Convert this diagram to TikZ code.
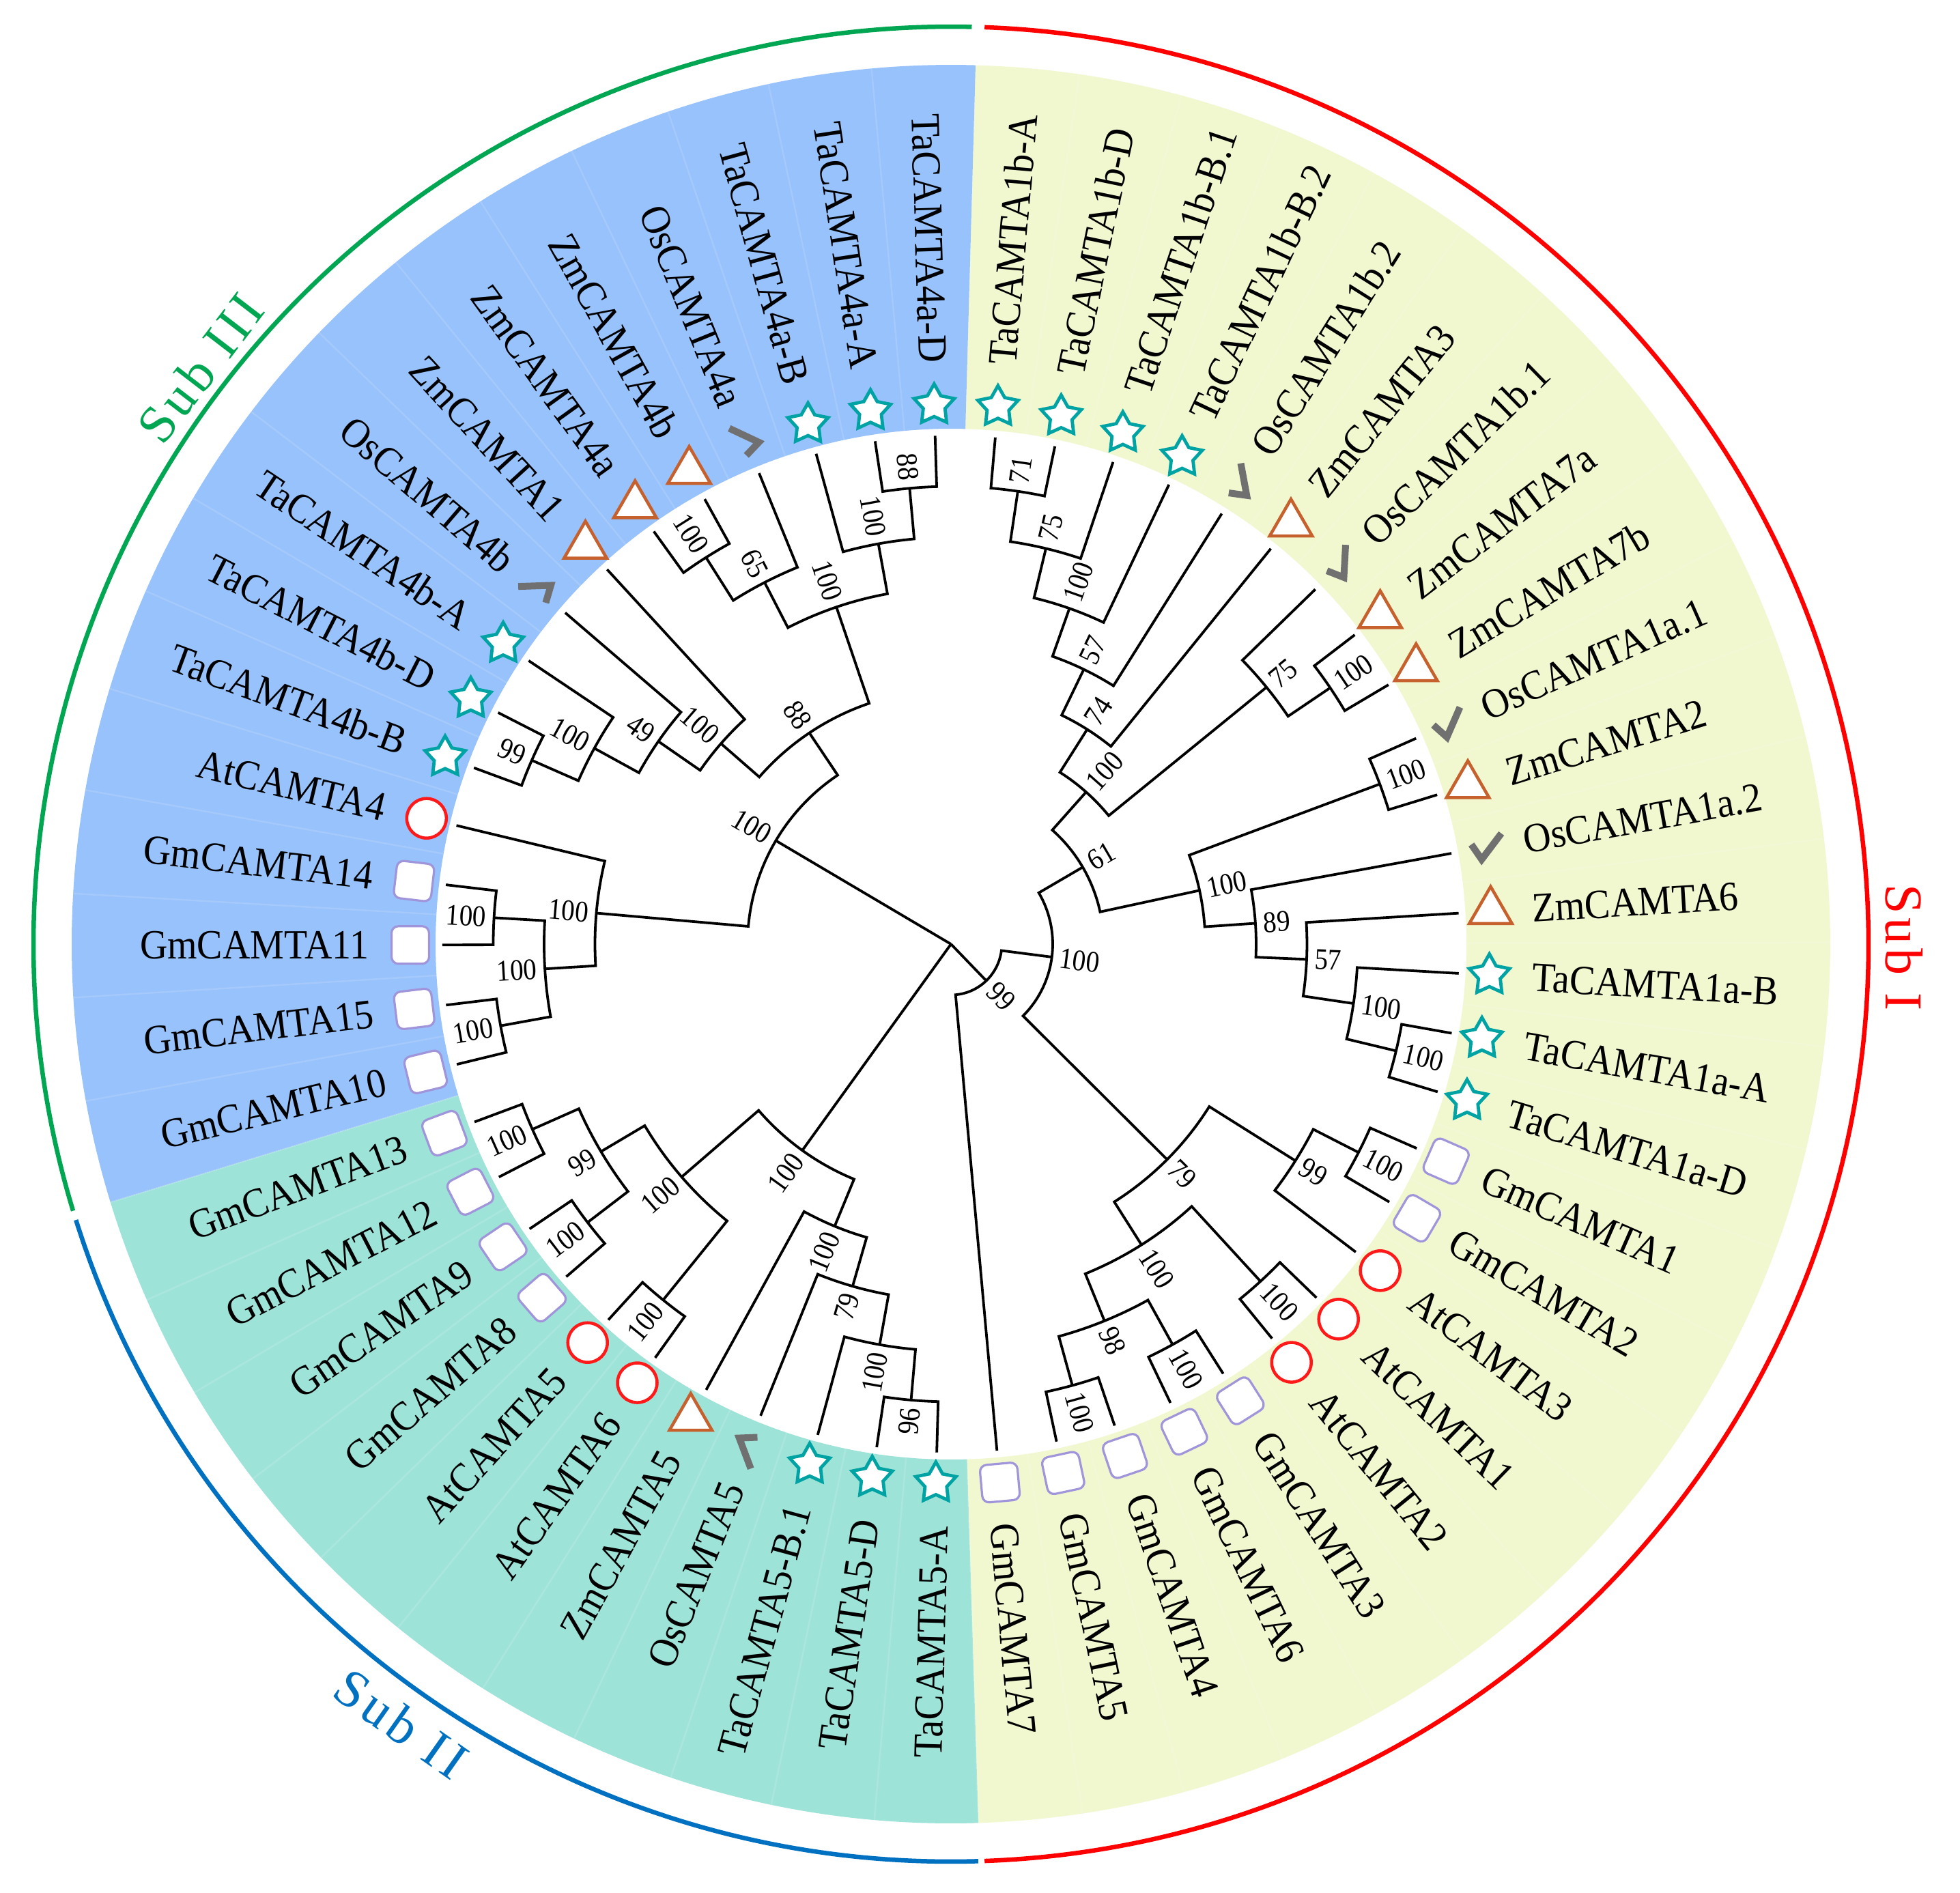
\documentclass[tikz,border=0pt]{standalone}
\usepackage{fontspec}
\newfontfamily\leaffont{Liberation Serif}[FakeStretch=0.92]
\newfontfamily\numfont{Liberation Serif}[FakeStretch=0.89]
\newfontfamily\subfont{Liberation Serif}[LetterSpace=8]
\usetikzlibrary{shapes.geometric}
\definecolor{bandY}{RGB}{241,248,208}
\definecolor{bandB}{RGB}{152,194,251}
\definecolor{bandT}{RGB}{158,227,216}
\definecolor{arcG}{RGB}{0,166,81}
\definecolor{arcR}{RGB}{255,0,0}
\definecolor{arcB}{RGB}{0,112,192}
\definecolor{tealc}{RGB}{0,163,163}
\definecolor{lilac}{RGB}{160,148,218}
\definecolor{redc}{RGB}{255,25,25}
\definecolor{brownc}{RGB}{198,96,44}
\definecolor{greyc}{RGB}{112,112,112}
\tikzset{
 tree/.style={line width=0.38mm, black, line join=miter},
 leaflab/.style={font=\leaffont\fontsize{17.3}{18}\selectfont, inner sep=0pt, text=black},
 bslab/.style={font=\numfont\fontsize{12.5}{13}\selectfont, inner sep=0pt, text=black},
 sublab/.style={font=\subfont\fontsize{22.2}{24}\selectfont, inner sep=0pt},
 mkS/.style={star, star points=5, star point ratio=1.85, draw=tealc, fill=white, line width=0.48mm, minimum size=6.2mm, inner sep=0pt},
 mkQ/.style={rectangle, rounded corners=1mm, draw=lilac, fill=white, line width=0.32mm, minimum size=5.5mm, inner sep=0pt},
 mkC/.style={circle, draw=redc, fill=white, line width=0.45mm, minimum size=5.8mm, inner sep=0pt},
 mkT/.style={regular polygon, regular polygon sides=3, draw=brownc, fill=white, line width=0.45mm, minimum size=7.2mm, inner sep=0pt},
 mkV/.style={draw=greyc, line width=1.0mm, line join=miter},
 subarc/.style={line width=0.65mm},
}
% internal tree node: name, child1 angle, child1 radius, child2 angle, child2 radius, node radius, bootstrap
\newcommand\tnb[7]{%
  \draw[tree] (#2:#3mm) -- (#2:#6mm) arc[start angle=#2, end angle=#4, radius=#6mm] -- (#4:#5mm);
  \pgfmathsetmacro\tnang{(#2+#4)/2}%
  \coordinate (#1) at (\tnang:#6mm);
  \pgfmathsetmacro\bsr{#6+1.1}%
  \pgfmathtruncatemacro\bsside{cos(\tnang)>=0 ? 1 : 0}%
  \ifnum\bsside=1
    \node[bslab, rotate=\tnang, anchor=west] (b#1) at (\tnang:\bsr mm) {#7};
  \else
    \pgfmathsetmacro\bsrot{\tnang+180}%
    \node[bslab, rotate=\bsrot, anchor=east] (b#1) at (\tnang:\bsr mm) {#7};
  \fi
}
\begin{document}
\begin{tikzpicture}
\fill[white] (-139.3mm,-139.0mm) rectangle (147.8mm,138.3mm);
\useasboundingbox (-139.3mm,-139.0mm) rectangle (147.8mm,138.3mm);

% coloured band
\fill[bandY] (-88.20875:75.5mm) arc[start angle=-88.20875, end angle=88.39625, radius=75.5mm] -- (88.39625:128.8mm) arc[start angle=88.39625, end angle=-88.20875, radius=128.8mm] -- cycle;
\fill[bandB] (88.39625:75.5mm) arc[start angle=88.39625, end angle=197.07375, radius=75.5mm] -- (197.07375:128.8mm) arc[start angle=197.07375, end angle=88.39625, radius=128.8mm] -- cycle;
\fill[bandT] (197.07375:75.5mm) arc[start angle=197.07375, end angle=271.79125, radius=75.5mm] -- (271.79125:128.8mm) arc[start angle=271.79125, end angle=197.07375, radius=128.8mm] -- cycle;
\foreach \j in {1,...,52} {
  \pgfmathsetmacro\wa{88.39625-\j*6.7925}
  \draw[white, opacity=0.13, line width=0.25mm] (\wa:75.5mm) -- (\wa:128.8mm);
}

% outer subgroup arcs
\draw[subarc, arcG] (88.7:134.4mm) arc[start angle=88.7, end angle=196.9, radius=134.4mm];
\draw[subarc, arcB] (197.5:134.4mm) arc[start angle=197.5, end angle=271.7, radius=134.4mm];
\draw[subarc, arcR] (-87.9:134.4mm) arc[start angle=-87.9, end angle=87.9, radius=134.4mm];
\node[sublab, text=arcG, rotate=52.5] (s3) at (142.5:138.6mm) {Sub III};
\node[sublab, text=arcR, rotate=-90] (s1) at (-0.2:139.6mm) {Sub I};
\node[sublab, text=arcB, rotate=-35.2] (s2) at (234.8:139.7mm) {Sub II};

% tree: Sub I
\tnb{na}{85}{74.5}{78.2075}{74.5}{67.05}{71}
\tnb{nb}{81.60375}{67.05}{71.415}{74.5}{59.6}{75}
\tnb{nc}{76.509}{59.6}{64.6225}{74.5}{52.15}{100}
\tnb{nd}{70.566}{52.15}{57.83}{74.5}{44.7}{57}
\tnb{ne}{64.198}{44.7}{51.0375}{74.5}{37.25}{74}
\tnb{nf}{37.4525}{74.5}{30.66}{74.5}{67.05}{100}
\tnb{ng}{44.245}{74.5}{34.056}{67.05}{59.6}{75}
\tnb{nh}{57.618}{37.25}{39.151}{59.6}{29.8}{100}
\tnb{ni}{23.8675}{74.5}{17.075}{74.5}{67.05}{100}
\tnb{nj}{-10.095}{74.5}{-16.8875}{74.5}{67.05}{100}
\tnb{nk}{-3.3025}{74.5}{-13.491}{67.05}{59.6}{100}
\tnb{nl}{3.49}{74.5}{-8.397}{59.6}{52.15}{57}
\tnb{nm}{10.2825}{74.5}{-2.454}{52.15}{44.7}{89}
\tnb{nn}{20.471}{67.05}{3.914}{44.7}{37.25}{100}
\tnb{no}{48.385}{29.8}{12.193}{37.25}{22.35}{61}
\tnb{np}{-23.68}{74.5}{-30.4725}{74.5}{67.05}{100}
\tnb{nq}{-27.076}{67.05}{-37.265}{74.5}{59.6}{99}
\tnb{nr}{-44.0575}{74.5}{-50.85}{74.5}{67.05}{100}
\tnb{ns}{-57.6425}{74.5}{-64.435}{74.5}{67.05}{100}
\tnb{nt}{-71.2275}{74.5}{-78.02}{74.5}{67.05}{100}
\tnb{nu}{-61.039}{67.05}{-74.624}{67.05}{59.6}{98}
\tnb{nv}{-47.454}{67.05}{-67.831}{59.6}{52.15}{100}
\tnb{nw}{-32.171}{59.6}{-57.643}{52.15}{44.7}{79}
\tnb{nx}{30.289}{22.35}{-44.907}{44.7}{14.9}{100}
\tnb{ny}{-7.309}{14.9}{-84.8125}{74.5}{7.45}{99}
% tree: Sub II
\tnb{nA}{268.395}{74.5}{261.6025}{74.5}{67.05}{96}
\tnb{nB}{264.999}{67.05}{254.81}{74.5}{59.6}{100}
\tnb{nC}{259.905}{59.6}{248.0175}{74.5}{52.15}{79}
\tnb{nD}{253.961}{52.15}{241.225}{74.5}{44.7}{100}
\tnb{nH}{234.4325}{74.5}{227.64}{74.5}{67.05}{100}
\tnb{nF}{220.8475}{74.5}{214.055}{74.5}{67.05}{100}
\tnb{nE}{207.2625}{74.5}{200.47}{74.5}{67.05}{100}
\tnb{nG}{217.451}{67.05}{203.866}{67.05}{59.6}{99}
\tnb{nI}{231.036}{67.05}{210.659}{59.6}{52.15}{100}
\tnb{nJ}{247.593}{44.7}{220.848}{52.15}{37.25}{100}
% tree: Sub III
\tnb{n5}{98.5825}{74.5}{91.79}{74.5}{67.05}{88}
\tnb{n6}{105.375}{74.5}{95.186}{67.05}{59.6}{100}
\tnb{n7}{125.7525}{74.5}{118.96}{74.5}{67.05}{100}
\tnb{n8}{122.356}{67.05}{112.1675}{74.5}{59.6}{65}
\tnb{n9}{117.262}{59.6}{100.281}{59.6}{52.15}{100}
\tnb{n1}{159.715}{74.5}{152.9225}{74.5}{67.05}{99}
\tnb{n2}{156.319}{67.05}{146.13}{74.5}{59.6}{100}
\tnb{n3}{151.225}{59.6}{139.3375}{74.5}{52.15}{49}
\tnb{n4}{145.281}{52.15}{132.545}{74.5}{44.7}{100}
\tnb{nX}{138.913}{44.7}{108.772}{52.15}{37.25}{88}
\tnb{nK}{180.0925}{74.5}{173.3}{74.5}{67.05}{100}
\tnb{nL}{193.6775}{74.5}{186.885}{74.5}{67.05}{100}
\tnb{nM}{190.281}{67.05}{176.696}{67.05}{59.6}{100}
\tnb{nN}{183.489}{59.6}{166.5075}{74.5}{52.15}{100}
\tnb{nR}{174.998}{52.15}{123.843}{37.25}{29.8}{100}
% root
\coordinate (root) at (0,0);
\draw[tree] (root) -- (nR);
\draw[tree] (root) -- (nJ);
\draw[tree] (root) -- (ny);

% leaves: index / label / marker type (0 star, 1 square, 2 circle, 3 triangle, 4 check)
\foreach \i/\nm/\ty in {
 1/TaCAMTA1b-A/0, 2/TaCAMTA1b-D/0, 3/TaCAMTA1b-B.1/0, 4/TaCAMTA1b-B.2/0,
 5/OsCAMTA1b.2/4, 6/ZmCAMTA3/3, 7/OsCAMTA1b.1/4, 8/ZmCAMTA7a/3, 9/ZmCAMTA7b/3,
 10/OsCAMTA1a.1/4, 11/ZmCAMTA2/3, 12/OsCAMTA1a.2/4, 13/ZmCAMTA6/3,
 14/TaCAMTA1a-B/0, 15/TaCAMTA1a-A/0, 16/TaCAMTA1a-D/0,
 17/GmCAMTA1/1, 18/GmCAMTA2/1, 19/AtCAMTA3/2, 20/AtCAMTA1/2, 21/AtCAMTA2/2,
 22/GmCAMTA3/1, 23/GmCAMTA6/1, 24/GmCAMTA4/1, 25/GmCAMTA5/1, 26/GmCAMTA7/1,
 27/TaCAMTA5-A/0, 28/TaCAMTA5-D/0, 29/TaCAMTA5-B.1/0, 30/OsCAMTA5/4, 31/ZmCAMTA5/3,
 32/AtCAMTA6/2, 33/AtCAMTA5/2, 34/GmCAMTA8/1, 35/GmCAMTA9/1, 36/GmCAMTA12/1, 37/GmCAMTA13/1,
 38/GmCAMTA10/1, 39/GmCAMTA15/1, 40/GmCAMTA11/1, 41/GmCAMTA14/1, 42/AtCAMTA4/2,
 43/TaCAMTA4b-B/0, 44/TaCAMTA4b-D/0, 45/TaCAMTA4b-A/0, 46/OsCAMTA4b/4,
 47/ZmCAMTA1/3, 48/ZmCAMTA4a/3, 49/ZmCAMTA4b/3, 50/OsCAMTA4a/4,
 51/TaCAMTA4a-B/0, 52/TaCAMTA4a-A/0, 53/TaCAMTA4a-D/0} {
  \pgfmathsetmacro\ang{85-(\i-1)*6.7925+(\i>26)*360}
  \pgfmathtruncatemacro\side{\ang<90 ? 1 : 0}
  \ifnum\side=1
    \node[leaflab, rotate=\ang, anchor=west] (lab\i) at (\ang:85.2mm) {\nm};
  \else
    \pgfmathsetmacro\rot{\ang-180}
    \node[leaflab, rotate=\rot, anchor=east] (lab\i) at (\ang:85.2mm) {\nm};
  \fi
  \ifcase\ty
    \node[mkS] (m\i) at (\ang:79mm) {};
  \or
    \node[mkQ, rotate=\ang] (m\i) at (\ang:79.2mm) {};
  \or
    \node[mkC] (m\i) at (\ang:79mm) {};
  \or
    \node[mkT] (m\i) at (\ang:79.2mm) {};
  \or
    \coordinate (m\i) at (\ang:79mm);
    \draw[mkV, shift={(m\i)}, rotate=\ang-10] (-1.5mm,0.5mm) -- (0mm,-1.7mm) -- (2.9mm,2.1mm);
  \fi
}
\end{tikzpicture}
\end{document}
